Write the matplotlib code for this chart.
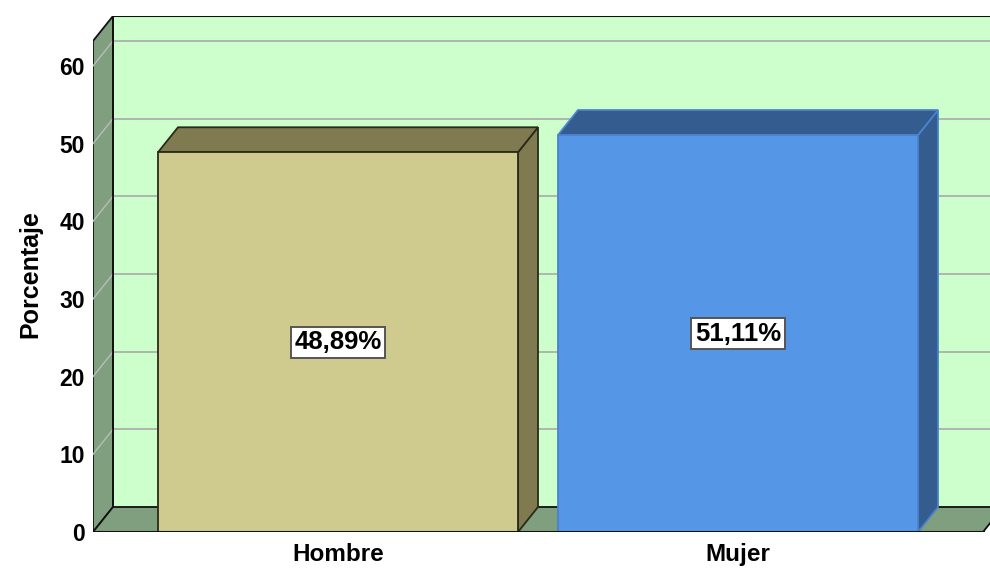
import matplotlib
matplotlib.use("Agg")
import matplotlib.pyplot as plt
from matplotlib.patches import Polygon, Rectangle

categorias = ["Hombre", "Mujer"]
porcentajes = [48.89, 51.11]
etiquetas = ["48,89%", "51,11%"]
ticks_y = [0, 10, 20, 30, 40, 50, 60]

color_frente = ["#CFCA8E", "#5596E6"]
color_lado = ["#7F7A50", "#345C8F"]
color_borde = ["#2A2A1A", "#4A82CC"]

plt.rcParams["font.family"] = ["Liberation Sans", "DejaVu Sans"]
plt.rcParams["font.weight"] = "bold"

W, H = 990, 569
fig = plt.figure(figsize=(W / 100, H / 100), dpi=100)

# front plane in pixels: x0=93 .. right edge, y=0 at 532px, 7.767 px per unit
px_izq, px_der, py_base, py_top = 93, 990, 532, 16
esc = 7.767
ymax = (py_base - py_top) / esc
centro0, paso = 338, 400
xmin = (px_izq - centro0) / paso
xmax = (px_der - centro0) / paso
ax = fig.add_axes([px_izq / W, 1 - py_base / H, (px_der - px_izq) / W, (py_base - py_top) / H])
ax.set_xlim(xmin, xmax)
ax.set_ylim(0, ymax)
for s in ax.spines.values():
    s.set_visible(False)

dx = 20 / paso
dy = 25 / esc
prof_top = ymax - dy
xr = (983 - centro0) / paso

# back wall
ax.add_patch(Rectangle((xmin + dx, dy), xmax - xmin + 0.2, prof_top, facecolor="#CCFFCC",
                       edgecolor="none", zorder=1, clip_on=True))
# side wall
ax.add_patch(Polygon([(xmin, 0), (xmin + dx, dy), (xmin + dx, ymax), (xmin, prof_top)],
                     facecolor="#7F9F7F", edgecolor="#111111", lw=1.3, zorder=2))
# floor
ax.add_patch(Polygon([(xmin, 0), (xr, 0), (xr + dx, dy), (xmin + dx, dy)],
                     facecolor="#7F9F7F", edgecolor="#111111", lw=1.3, zorder=2))

for v in ticks_y:
    ax.plot([xmin + dx, xmax + 0.1], [v + dy, v + dy], color="#AAAAAA", lw=1.2, zorder=1.5)
    if v > 0:
        ax.plot([xmin, xmin + dx], [v, v + dy], color="#BBBBBB", lw=1.0, zorder=2.5)
ax.plot([xmin + dx, xmax + 0.1], [ymax, ymax], color="#111111", lw=1.5, zorder=2)
ax.plot([xmin + dx, xmin + dx], [dy, ymax], color="#111111", lw=1.3, zorder=2.6)
ax.plot([xmin, xr], [0, 0], color="#111111", lw=2.2, zorder=6)

medio = 0.45
for i, (cat, val) in enumerate(zip(categorias, porcentajes)):
    x0, x1 = i - medio, i + medio
    ec = color_borde[i]
    ax.add_patch(Polygon([(x1, 0), (x1 + dx, dy), (x1 + dx, val + dy), (x1, val)],
                         facecolor=color_lado[i], edgecolor=ec, lw=1.3, zorder=3))
    ax.add_patch(Polygon([(x0, val), (x1, val), (x1 + dx, val + dy), (x0 + dx, val + dy)],
                         facecolor=color_lado[i], edgecolor=ec, lw=1.3, zorder=3))
    ax.add_patch(Rectangle((x0, 0), 2 * medio, val, facecolor=color_frente[i],
                           edgecolor=ec, lw=1.3, zorder=4))
    ax.text(i, val / 2, etiquetas[i], ha="center", va="center", fontsize=18.5,
            fontweight="bold", zorder=7,
            bbox=dict(boxstyle="square,pad=0.14", facecolor="white",
                      edgecolor="#555555", lw=1.4))

ax.set_xticks(range(len(categorias)))
ax.set_xticklabels(categorias, fontsize=17.5, fontweight="bold")
ax.set_yticks(ticks_y)
ax.set_yticklabels([str(t) for t in ticks_y], fontsize=16.5, fontweight="bold")
ax.tick_params(axis="both", length=0)
ax.tick_params(axis="y", pad=6)
ax.tick_params(axis="x", pad=8)
ax.set_ylabel("Porcentaje", fontsize=18, fontweight="bold", labelpad=12)

fig.savefig("out.png", dpi=100)
